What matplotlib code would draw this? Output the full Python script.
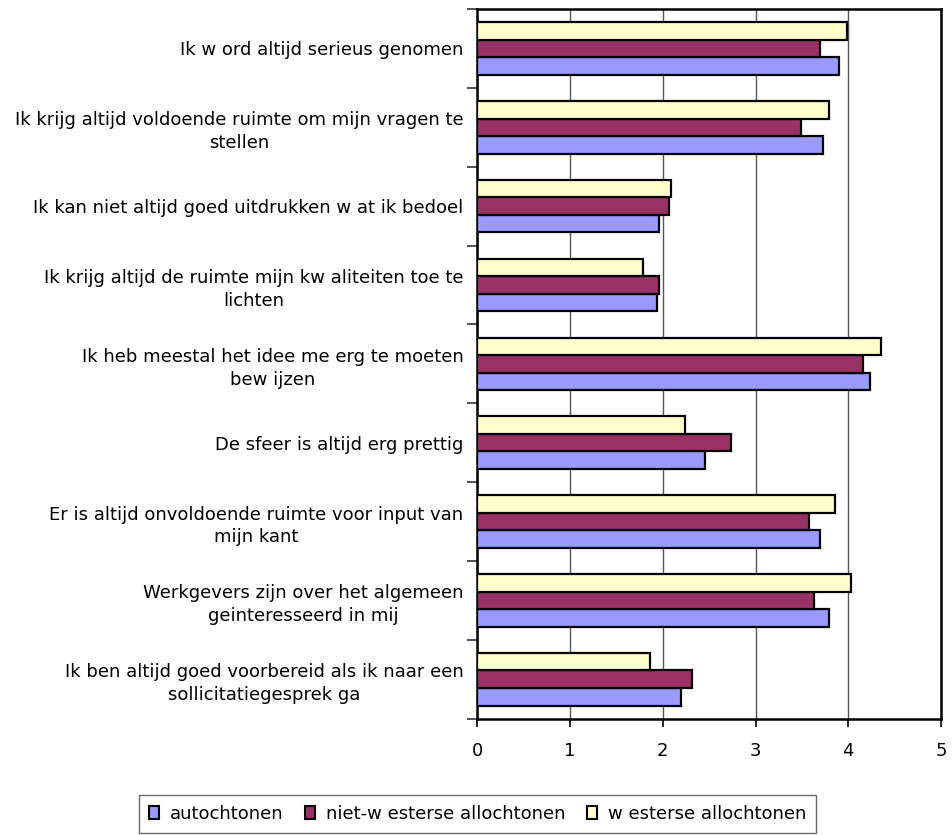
import matplotlib
matplotlib.use("Agg")
import matplotlib.pyplot as plt
import numpy as np
from matplotlib.patches import Patch

plt.rcParams['font.family'] = ['DejaVu Sans']

categories = [
    "Ik w ord altijd serieus genomen",
    "Ik krijg altijd voldoende ruimte om mijn vragen te\nstellen",
    "Ik kan niet altijd goed uitdrukken w at ik bedoel",
    "Ik krijg altijd de ruimte mijn kw aliteiten toe te\nlichten",
    "Ik heb meestal het idee me erg te moeten\nbew ijzen",
    "De sfeer is altijd erg prettig",
    "Er is altijd onvoldoende ruimte voor input van\nmijn kant",
    "Werkgevers zijn over het algemeen\ngeinteresseerd in mij",
    "Ik ben altijd goed voorbereid als ik naar een\nsollicitatiegesprek ga",
]

series_names = ["autochtonen", "niet-w esterse allochtonen", "w esterse allochtonen"]
autochtonen = [3.90, 3.73, 1.96, 1.94, 4.24, 2.46, 3.70, 3.79, 2.20]
niet_westers = [3.70, 3.49, 2.07, 1.96, 4.16, 2.74, 3.58, 3.63, 2.31]
westers = [3.99, 3.79, 2.09, 1.79, 4.35, 2.24, 3.86, 4.03, 1.86]

x_ticks = [0, 1, 2, 3, 4, 5]

colors = ["#9999FF", "#993366", "#FFFFCC"]

fig = plt.figure(figsize=(9.52, 8.35), dpi=100)
ax = fig.add_axes([0.5014, 0.1393, 0.9884 - 0.5014, 0.9892 - 0.1393])

pos = np.arange(len(categories))
h = 1 / 4.5
# within each group: westers on top, niet-westers middle, autochtonen bottom
offsets = [h, 0.0, -h]
for vals, col, off, name in zip([autochtonen, niet_westers, westers], colors, offsets, series_names):
    ax.barh(pos + off, vals, height=h, color=col, edgecolor="black",
            linewidth=1.6, label=name, zorder=3)

ax.set_ylim(len(categories) - 0.5, -0.5)
ax.set_xlim(0, 5)
ax.set_xticks(x_ticks)
ax.set_xticklabels([str(t) for t in x_ticks], fontsize=13)

ax.set_yticks(np.arange(len(categories) + 1) - 0.5)
ax.set_yticklabels([])
ax.set_yticks(pos, minor=True)
ax.set_yticklabels(categories, minor=True, fontsize=13, ha="right",
                   multialignment="center", linespacing=1.35)
ax.tick_params(axis="y", which="minor", length=0, pad=10)
ax.tick_params(axis="y", which="major", length=7, width=1.2, direction="out", color="#333333")
ax.tick_params(axis="x", length=6, width=1.2, direction="out", pad=11)

ax.xaxis.grid(True, color="#555555", linewidth=1.0, zorder=0)
ax.set_axisbelow(True)
for s in ax.spines.values():
    s.set_color("black")
    s.set_linewidth(1.8)

handles = [Patch(facecolor=c, edgecolor="black", linewidth=1.5) for c in colors]
leg = fig.legend(handles, series_names, loc="center", bbox_to_anchor=(0.502, 0.0251),
                 ncol=3, fontsize=13, frameon=True, fancybox=False,
                 handlelength=0.55, handleheight=0.7, handletextpad=0.6,
                 columnspacing=1.2, borderpad=0.55, borderaxespad=0)
leg.get_frame().set_edgecolor("#444444")
leg.get_frame().set_linewidth(1.0)

fig.savefig("out.png", dpi=100)
